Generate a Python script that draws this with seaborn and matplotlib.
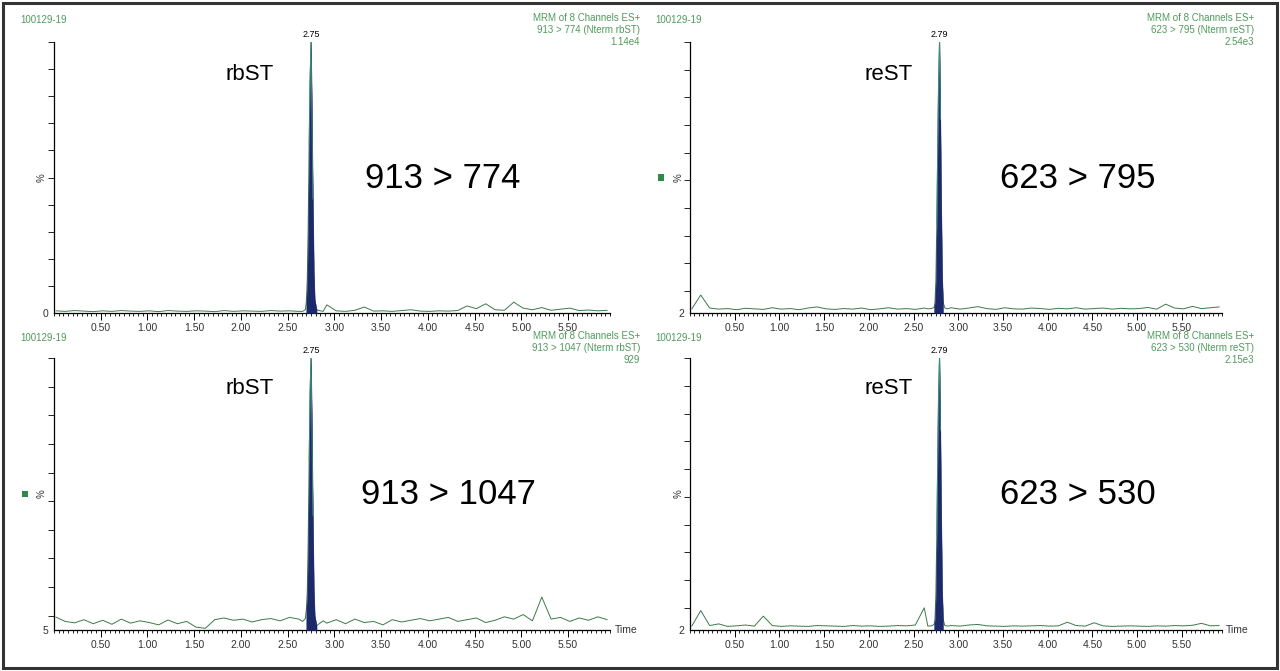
import numpy as np
import matplotlib
matplotlib.use("Agg")
import matplotlib.pyplot as plt
from matplotlib.patches import Rectangle
from matplotlib.ticker import MultipleLocator
import seaborn as sns

sns.set_style("white")
plt.rcParams['font.family'] = ['Liberation Sans', 'DejaVu Sans']

# ---- data (% of channel max) ----
base_time = [0.02, 0.12, 0.22, 0.32, 0.42, 0.52, 0.62, 0.72, 0.82, 0.92,
             1.02, 1.12, 1.22, 1.32, 1.42, 1.52, 1.62, 1.72, 1.82, 1.92,
             2.02, 2.12, 2.22, 2.32, 2.42, 2.52, 2.62,
             2.92, 3.02, 3.12, 3.22, 3.32, 3.42, 3.52, 3.62, 3.72, 3.82,
             3.92, 4.02, 4.12, 4.22, 4.32, 4.42, 4.52, 4.62, 4.72, 4.82,
             4.92, 5.02, 5.12, 5.22, 5.32, 5.42, 5.52, 5.62, 5.72, 5.82, 5.92]

base_774 = [0.8, 0.6, 0.9, 0.7, 0.5, 0.8, 0.6, 0.9, 0.7, 0.6, 0.8, 0.5, 0.9, 0.7,
            0.6, 0.8, 0.7, 0.5, 0.9, 0.6, 0.8, 0.7, 0.6, 0.9, 0.7, 0.8, 0.6,
            3.0, 0.8, 0.6, 1.0, 2.2, 0.7, 0.8, 0.6, 0.9, 1.2, 0.7, 0.6, 0.8, 0.7,
            0.9, 2.6, 1.6, 3.4, 1.2, 1.0, 4.0, 1.8, 1.2, 2.0, 1.0, 1.4, 1.8, 0.9,
            1.1, 0.8, 1.0]
base_795 = [3.5, 8.5, 3.8, 3.4, 3.6, 3.2, 3.7, 3.5, 3.3, 3.9, 3.4, 3.6, 3.2, 3.8,
            4.2, 3.5, 3.3, 3.6, 3.4, 3.8, 3.2, 3.5, 3.9, 3.4, 3.6, 3.3, 3.8,
            3.9, 3.4, 3.8, 4.3, 3.6, 3.3, 3.9, 3.5, 3.4, 3.8, 3.6, 3.3, 3.7, 3.5,
            3.9, 3.4, 3.6, 3.8, 3.4, 3.7, 3.5, 3.6, 4.0, 3.4, 5.2, 3.8, 3.5, 4.4,
            3.6, 3.9, 4.2]
base_1047 = [9.5, 8.0, 7.5, 8.6, 7.2, 8.4, 7.0, 8.8, 7.4, 8.2, 7.6, 6.8, 8.5, 7.2,
             8.0, 6.0, 5.6, 8.6, 9.2, 8.4, 8.8, 7.8, 8.6, 9.0, 8.2, 9.4, 8.8,
             7.4, 8.6, 7.2, 8.8, 7.6, 8.0, 6.8, 8.6, 7.8, 8.4, 9.0, 8.2, 8.8, 9.4,
             8.0, 8.6, 9.2, 7.6, 8.4, 9.6, 8.8, 10.4, 8.2, 16.5, 8.8, 9.4, 8.0, 9.2,
             8.4, 9.6, 8.6]
base_530 = [3.4, 9.0, 3.6, 4.2, 3.3, 3.5, 3.8, 3.4, 7.0, 3.6, 3.3, 3.5, 3.4, 3.3,
            3.6, 3.5, 3.4, 3.3, 3.6, 3.4, 3.5, 3.3, 3.4, 3.6, 3.5, 3.8, 10.0,
            3.6, 3.4, 3.8, 4.0, 3.5, 3.4, 3.3, 3.5, 3.4, 3.5, 3.6, 3.4, 3.5, 4.8,
            3.6, 3.4, 4.6, 3.5, 3.3, 3.4, 3.5, 3.4, 3.3, 3.5, 3.4, 3.6, 3.5, 3.7,
            4.4, 3.5, 3.6]

peak_time_rb = [2.66, 2.69, 2.70, 2.71, 2.72, 2.73, 2.74, 2.75, 2.76, 2.77, 2.78, 2.79, 2.81, 2.85, 2.88]
peak_774 = [0.6, 1.2, 4, 12, 32, 62, 86, 100, 74, 42, 16, 5, 1.2, 0.8, 0.6]
peak_1047 = [8.0, 9.0, 12, 18, 36, 64, 88, 100, 76, 45, 20, 10, 6.5, 7.5, 8.2]

peak_time_re = [2.66, 2.70, 2.73, 2.74, 2.75, 2.76, 2.77, 2.78, 2.79, 2.80, 2.81, 2.82, 2.83, 2.85, 2.88]
peak_795 = [3.5, 3.6, 4.0, 6, 14, 34, 62, 86, 100, 72, 40, 15, 6, 3.8, 3.5]
peak_530 = [3.4, 3.5, 4.0, 6, 15, 36, 64, 88, 100, 74, 42, 16, 6, 3.6, 3.4]

x_ticks = [0.50, 1.00, 1.50, 2.00, 2.50, 3.00, 3.50, 4.00, 4.50, 5.00, 5.50]

panels = [
    # axes rect in pixels (left, top, right, bottom), data, labels
    dict(rect=(54, 42, 610, 313), base=base_774, pt=peak_time_rb, pv=peak_774,
         ymin=0, rt="2.75", rt_x=2.75, name="rbST", trans="913 > 774",
         head="MRM of 8 Channels ES+\n913 > 774 (Nterm rbST)\n1.14e4",
         name_xy=(250, 75), trans_xy=(443, 178), id_xy=(20, 20), head_xy=(640, 13),
         square=False, time=False),
    dict(rect=(690, 42, 1222, 313), base=base_795, pt=peak_time_re, pv=peak_795,
         ymin=2, rt="2.79", rt_x=2.79, name="reST", trans="623 > 795",
         head="MRM of 8 Channels ES+\n623 > 795 (Nterm reST)\n2.54e3",
         name_xy=(889, 75), trans_xy=(1078, 178), id_xy=(655, 20), head_xy=(1254, 13),
         square=True, time=False),
    dict(rect=(54, 358, 610, 630), base=base_1047, pt=peak_time_rb, pv=peak_1047,
         ymin=5, rt="2.75", rt_x=2.75, name="rbST", trans="913 > 1047",
         head="MRM of 8 Channels ES+\n913 > 1047 (Nterm rbST)\n929",
         name_xy=(250, 389), trans_xy=(448, 495), id_xy=(20, 338), head_xy=(640, 331),
         square=True, time=True),
    dict(rect=(690, 358, 1222, 630), base=base_530, pt=peak_time_re, pv=peak_530,
         ymin=2, rt="2.79", rt_x=2.79, name="reST", trans="623 > 530",
         head="MRM of 8 Channels ES+\n623 > 530 (Nterm reST)\n2.15e3",
         name_xy=(889, 389), trans_xy=(1078, 495), id_xy=(655, 338), head_xy=(1254, 331),
         square=False, time=True),
]

W, H = 1280, 671
green_txt = '#4f9a5c'
trace_col = '#3d7a48'
fill_col = '#1c2a6b'


def fx(x):
    return x / W


def fy(y):
    return 1 - y / H


fig = plt.figure(figsize=(12.8, 6.71), dpi=100)
fig.patch.set_facecolor('white')

for p in panels:
    l, t, r, b = p['rect']
    ax = fig.add_axes([fx(l), fy(b), (r - l) / W, (b - t) / H])

    # merge baseline and peak points into one trace
    tt = np.array(base_time[:27] + p['pt'] + base_time[27:])
    vv = np.array(p['base'][:27] + p['pv'] + p['base'][27:])

    sns.lineplot(x=tt, y=vv, ax=ax, color=trace_col, lw=0.7, zorder=2,
                 estimator=None, sort=True)
    # integrated peak area (main peak only)
    ax.fill_between(p['pt'][2:13], p['ymin'], p['pv'][2:13], color=fill_col, lw=0.3,
                    ec=fill_col, zorder=3)
    # thin teal tip on top of the peak
    ax.plot(p['pt'][5:10], p['pv'][5:10], color='#3f8f80', lw=0.6, zorder=4)

    ax.set_xlim(0, 5.95)
    ax.set_ylim(p['ymin'], 100)
    for s in ['top', 'right']:
        ax.spines[s].set_visible(False)
    for s in ['left', 'bottom']:
        ax.spines[s].set_color('black')
        ax.spines[s].set_linewidth(0.9)

    ax.set_xticks(x_ticks)
    ax.set_xticklabels([f"{v:.2f}" for v in x_ticks])
    ax.xaxis.set_minor_locator(MultipleLocator(0.05))
    ax.set_yticks([p['ymin']])
    ax.set_yticklabels([str(p['ymin'])])
    ax.yaxis.set_minor_locator(MultipleLocator(10))
    ax.tick_params(axis='x', which='both', bottom=True, direction='out')
    ax.tick_params(axis='y', which='both', left=True, direction='out')
    ax.tick_params(axis='x', which='major', length=5, width=0.7, labelsize=7.5,
                   colors='black', labelcolor='#333333', pad=2)
    ax.tick_params(axis='x', which='minor', length=2.5, width=0.6, colors='black')
    ax.tick_params(axis='y', which='major', length=0, labelsize=7.5,
                   labelcolor='#333333', pad=4)
    ax.tick_params(axis='y', which='minor', length=4, width=0.6, colors='black')
    ax.set_xlabel('')
    ax.set_ylabel('')
    ax.grid(False)

    ax.text(p['rt_x'], 101, p['rt'], ha='center', va='bottom', fontsize=6.5,
            color='black', clip_on=False)
    ax.text(-0.022, 0.5, '%', transform=ax.transAxes, rotation=90, ha='center',
            va='center', fontsize=7, color='#333333')
    if p['time']:
        ax.text(1.008, 0.0, 'Time', transform=ax.transAxes, ha='left',
                va='center', fontsize=7.5, color='#333333')

    fig.text(fx(p['id_xy'][0]), fy(p['id_xy'][1]), '100129-19', ha='left',
             va='center', fontsize=7, color=green_txt)
    fig.text(fx(p['head_xy'][0]), fy(p['head_xy'][1]), p['head'], ha='right',
             va='top', fontsize=7, color=green_txt, linespacing=1.25,
             multialignment='right')
    fig.text(fx(p['name_xy'][0]), fy(p['name_xy'][1]), p['name'], ha='center',
             va='center', fontsize=16, color='black')
    fig.text(fx(p['trans_xy'][0]), fy(p['trans_xy'][1]), p['trans'], ha='center',
             va='center', fontsize=25, color='black')
    if p['square']:
        sq_x = l - 29
        sq_y = (t + b) / 2
        fig.add_artist(Rectangle((fx(sq_x - 3), fy(sq_y + 3)), 6 / W, 6 / H,
                                 transform=fig.transFigure, color='#2e8a4a', lw=0))

# outer frame
fig.add_artist(Rectangle((fx(3), fy(668)), 1274 / W, 665 / H, transform=fig.transFigure,
                         fill=False, ec='#333333', lw=2.2))

fig.savefig('out.png', dpi=100, facecolor='white')
